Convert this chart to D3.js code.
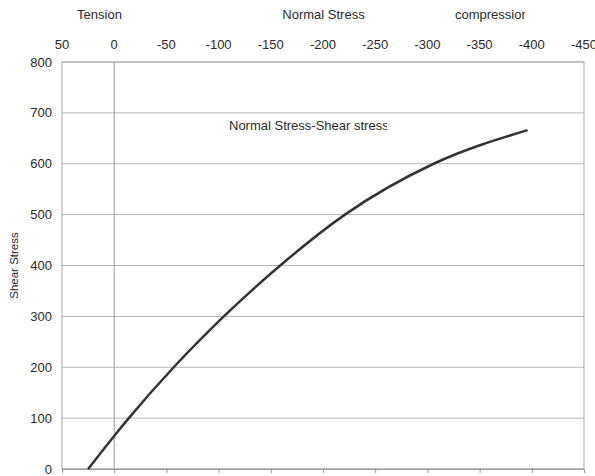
<!DOCTYPE html>
<html>
<head>
<meta charset="utf-8">
<script src="https://cdn.jsdelivr.net/npm/d3@7"></script>
<style>
  body { margin: 0; background: #fff; }
  text { font-family: "Liberation Sans", Arial, sans-serif; fill: #2a2a2a; }
</style>
</head>
<body>
<div id="chart"></div>
<script>
// normal stress (negative = compression) vs shear stress
const normalStress = [25, 0, -14, -57, -105, -159, -221, -306, -396]
const shearStress = [0, 65, 100, 200, 300, 400, 500, 600, 666]
const xTicks = [50, 0, -50, -100, -150, -200, -250, -300, -350, -400, -450]
const yTicks = [0, 100, 200, 300, 400, 500, 600, 700, 800]

const width = 595
const height = 476
const margin = { top: 62, bottom: 7, left: 62, right: 11 }

const svg = d3.select('#chart')
    .append('svg')
    .attr('width', width)
    .attr('height', height)

const x = d3.scaleLinear()
    .domain([50, -450])
    .range([margin.left, width - margin.right])

const y = d3.scaleLinear()
    .domain([0, 800])
    .range([height - margin.bottom, margin.top])

// horizontal grid
svg.append('g')
    .selectAll('line')
    .data(yTicks)
    .join('line')
        .attr('x1', x(50))
        .attr('x2', x(-450))
        .attr('y1', d => y(d))
        .attr('y2', d => y(d))
        .attr('stroke', '#b4b4b4')
        .attr('stroke-width', 1)

// frame
svg.append('rect')
    .attr('x', x(50))
    .attr('y', y(800))
    .attr('width', x(-450) - x(50))
    .attr('height', y(0) - y(800))
    .attr('fill', 'none')
    .attr('stroke', '#a8a8a8')

// vertical line at zero
svg.append('line')
    .attr('x1', x(0)).attr('x2', x(0))
    .attr('y1', y(800)).attr('y2', y(0))
    .attr('stroke', '#999')

// bottom axis: ticks only
svg.append('g')
    .attr('transform', `translate(0,${y(0)})`)
    .call(d3.axisBottom(x).tickValues(xTicks).tickSize(4).tickFormat(''))
    .call(g => g.select('.domain').attr('stroke', '#999'))
    .call(g => g.selectAll('.tick line').attr('stroke', '#999'))

// top tick labels
svg.append('g')
    .selectAll('text')
    .data(xTicks)
    .join('text')
        .attr('x', d => x(d))
        .attr('y', 49)
        .attr('text-anchor', 'middle')
        .attr('font-size', 13)
        .text(d => d)

// y labels
svg.append('g')
    .selectAll('text')
    .data(yTicks)
    .join('text')
        .attr('x', 52)
        .attr('y', d => y(d))
        .attr('dy', '0.35em')
        .attr('text-anchor', 'end')
        .attr('font-size', 13)
        .text(d => d)

svg.append('text')
    .attr('transform', `translate(18,${(y(0) + y(800)) / 2}) rotate(-90)`)
    .attr('text-anchor', 'middle')
    .attr('font-size', 11.5)
    .text('Shear  Stress')

// top titles
svg.append('text').attr('x', 99.5).attr('y', 19).attr('text-anchor', 'middle')
    .attr('font-size', 13).text('Tension')
svg.append('text').attr('x', 323.5).attr('y', 19).attr('text-anchor', 'middle')
    .attr('font-size', 13).text('Normal Stress')

const defs = svg.append('defs')
defs.append('clipPath').attr('id', 'clipTop')
    .append('rect').attr('x', 0).attr('y', 0).attr('width', 525).attr('height', 30)
defs.append('clipPath').attr('id', 'clipInner')
    .append('rect').attr('x', 0).attr('y', 100).attr('width', 387).attr('height', 50)

svg.append('text').attr('x', 455).attr('y', 19)
    .attr('font-size', 13).attr('clip-path', 'url(#clipTop)').text('compression')
svg.append('text').attr('x', 229).attr('y', 130)
    .attr('font-size', 13).attr('clip-path', 'url(#clipInner)').text('Normal Stress-Shear stress')

// curve
const line = d3.line()
    .x((d, i) => x(normalStress[i]))
    .y((d, i) => y(shearStress[i]))
    .curve(d3.curveMonotoneX)

svg.append('path')
    .datum(shearStress)
    .attr('d', line)
    .attr('fill', 'none')
    .attr('stroke', '#333')
    .attr('stroke-width', 2.5)
</script>
</body>
</html>
